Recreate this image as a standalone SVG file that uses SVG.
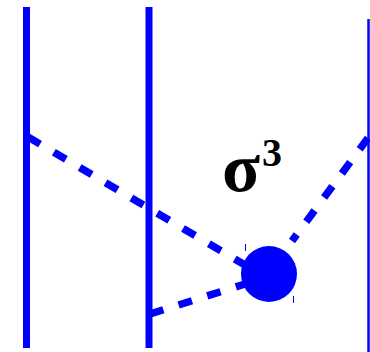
<svg xmlns="http://www.w3.org/2000/svg" width="370" height="352" viewBox="0 0 370 352">
<style>
.wl{stroke:#0000ff;stroke-width:7;fill:none}
.dl{stroke:#0000ff;stroke-width:7.5;fill:none;stroke-dasharray:14 16}
.tk{stroke:#0000ff;stroke-width:1;fill:none}
.lbl{font-family:"Liberation Serif",serif;font-weight:bold;fill:#000}
</style>
<rect width="370" height="352" fill="#fff"/>
<g id="line1"><line class="wl" x1="26.5" y1="7" x2="26.5" y2="348"/></g>
<g id="line2"><line class="wl" x1="149" y1="7" x2="149" y2="348"/></g>
<g id="line3"><line class="wl" style="stroke-width:2.5" x1="368.5" y1="19" x2="368.5" y2="352"/></g>
<g id="connectors">
<line class="dl" x1="28" y1="137" x2="245" y2="265"/>
<line class="dl" x1="150" y1="314" x2="245" y2="284"/>
<line class="dl" x1="368" y1="138" x2="292" y2="241"/>
</g>
<g id="vertex">
<circle cx="269" cy="274" r="28" fill="#0000ff"/>
<line class="tk" x1="245.5" y1="244" x2="245.5" y2="251"/>
<line class="tk" x1="293.5" y1="296" x2="293.5" y2="303"/>
</g>
<g id="label">
<text class="lbl" x="222" y="191" font-size="70">σ</text>
<text class="lbl" x="262" y="166" font-size="40">3</text>
</g>
</svg>
